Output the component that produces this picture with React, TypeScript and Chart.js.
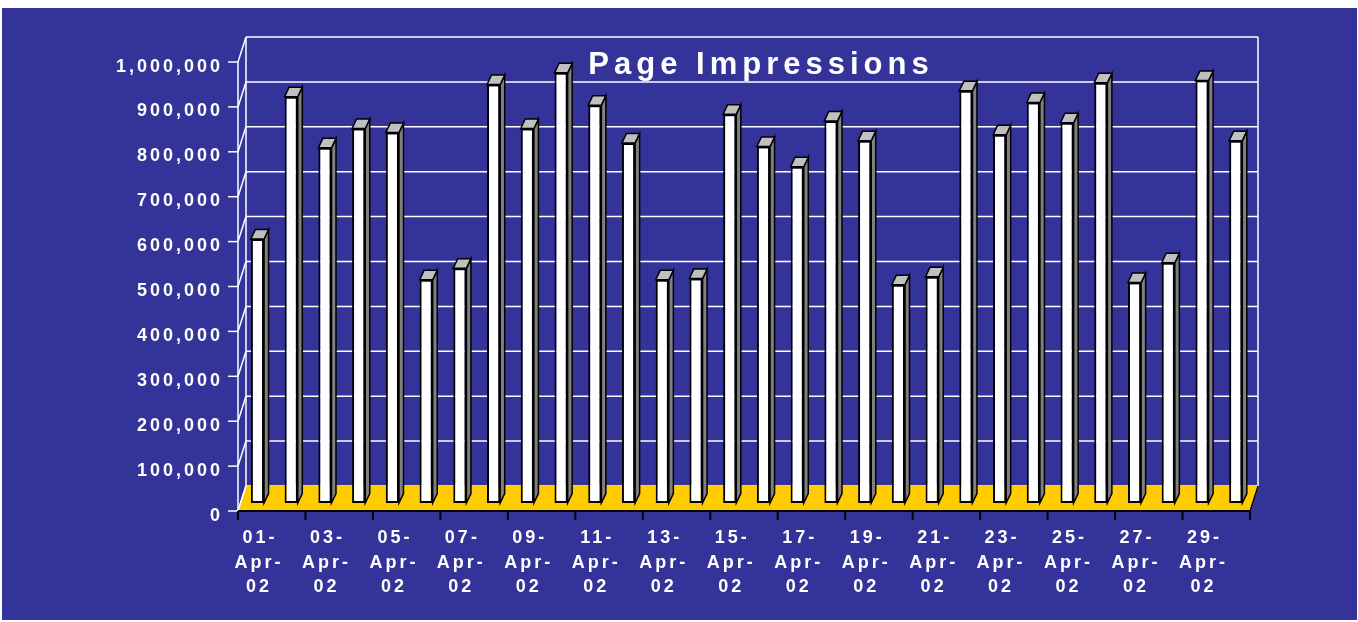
import React, { useEffect, useRef } from 'react';
import { Chart, registerables } from 'chart.js';

Chart.register(...registerables);

const categories = [
  '01-Apr-02', '02-Apr-02', '03-Apr-02', '04-Apr-02', '05-Apr-02', '06-Apr-02',
  '07-Apr-02', '08-Apr-02', '09-Apr-02', '10-Apr-02', '11-Apr-02', '12-Apr-02',
  '13-Apr-02', '14-Apr-02', '15-Apr-02', '16-Apr-02', '17-Apr-02', '18-Apr-02',
  '19-Apr-02', '20-Apr-02', '21-Apr-02', '22-Apr-02', '23-Apr-02', '24-Apr-02',
  '25-Apr-02', '26-Apr-02', '27-Apr-02', '28-Apr-02', '29-Apr-02', '30-Apr-02',
];

const pageImpressions = [
  588000, 905000, 791000, 834000, 825000, 497000,
  523000, 932000, 834000, 958000, 886000, 802000,
  497000, 500000, 866000, 794000, 749000, 851000,
  807000, 486000, 504000, 918000, 820000, 892000,
  847000, 936000, 491000, 535000, 941000, 807000,
];

const yTickValues = [0, 100000, 200000, 300000, 400000, 500000, 600000, 700000, 800000, 900000, 1000000];

const chartTitle = 'Page Impressions';

const BLUE = '#333399';
const YELLOW = '#FFCC00';
const SIDE = '#808080';
const TOP = '#C0C0C0';
const TEXT = '#FFFFFF';
const FONT = '"Liberation Sans", Arial, sans-serif';

// plane offsets relative to the bar plane (chart area)
const FX = -2.6, FY = 8; // front plane
const BX = 5.4, BY = -17; // back wall plane
const DX = 4.5, DY = 9.5; // bar depth

function fmt(v: number) {
  return v.toLocaleString('en-US');
}

function drawSpaced(ctx: CanvasRenderingContext2D, text: string, x: number, y: number, align: 'left' | 'center' | 'right', spacing: number) {
  ctx.save();
  (ctx as any).letterSpacing = '0px';
  const base = ctx.measureText(text).width;
  const w = base + spacing * (text.length - 1);
  let x0 = x;
  if (align === 'center') x0 = x - w / 2;
  else if (align === 'right') x0 = x - w;
  (ctx as any).letterSpacing = spacing + 'px';
  ctx.textAlign = 'left';
  ctx.fillText(text, x0, y);
  ctx.restore();
}

function line(ctx: CanvasRenderingContext2D, x1: number, y1: number, x2: number, y2: number) {
  ctx.beginPath();
  ctx.moveTo(x1, y1);
  ctx.lineTo(x2, y2);
  ctx.stroke();
}

const excel3d = {
  id: 'excel3d',
  beforeDraw(chart: any) {
    const ctx: CanvasRenderingContext2D = chart.ctx;
    const xs = chart.scales.x;
    const ys = chart.scales.y;
    ctx.save();
    ctx.fillStyle = '#FFFFFF';
    ctx.fillRect(0, 0, chart.width, chart.height);
    ctx.fillStyle = BLUE;
    ctx.fillRect(2, 8, chart.width - 3, chart.height - 10);

    const L = xs.left, R = xs.right;
    const y0 = ys.getPixelForValue(0);
    const yMax = ys.getPixelForValue(1000000);

    ctx.strokeStyle = '#FFFFFF';
    ctx.lineWidth = 1.5;
    // back wall gridlines
    for (const v of yTickValues) {
      const yb = ys.getPixelForValue(v) + BY;
      line(ctx, L + BX, yb, R + BX, yb);
    }
    // back wall edges
    line(ctx, L + BX, yMax + BY, L + BX, y0 + BY);
    line(ctx, R + BX, yMax + BY, R + BX, y0 + BY);
    // left wall diagonals and front axis ticks
    for (const v of yTickValues) {
      const yp = ys.getPixelForValue(v);
      line(ctx, L + FX, yp + FY, L + BX, yp + BY);
      line(ctx, L + FX - 10, yp + FY, L + FX, yp + FY);
    }
    line(ctx, L + FX, yMax + FY, L + FX, y0 + FY);

    // floor
    ctx.fillStyle = YELLOW;
    ctx.beginPath();
    ctx.moveTo(L + FX, y0 + FY);
    ctx.lineTo(R + FX, y0 + FY);
    ctx.lineTo(R + BX, y0 + BY);
    ctx.lineTo(L + BX, y0 + BY);
    ctx.closePath();
    ctx.fill();
    ctx.strokeStyle = '#FFFFFF';
    ctx.lineWidth = 1.5;
    line(ctx, L + FX, y0 + FY, L + BX, y0 + BY);
    ctx.strokeStyle = '#000000';
    ctx.lineWidth = 1.2;
    line(ctx, R + FX, y0 + FY, R + BX, y0 + BY);
    // front edge and ticks
    ctx.lineWidth = 2;
    line(ctx, L + FX, y0 + FY, R + FX, y0 + FY);
    for (let k = 0; k <= categories.length; k += 2) {
      const xb = xs.getPixelForValue(k - 0.5) + FX;
      line(ctx, xb, y0 + FY, xb, y0 + FY + 9);
    }
    ctx.restore();
  },
  afterDatasetsDraw(chart: any) {
    const ctx: CanvasRenderingContext2D = chart.ctx;
    const meta = chart.getDatasetMeta(0);
    ctx.save();
    ctx.strokeStyle = '#000000';
    ctx.lineWidth = 1.5;
    ctx.lineJoin = 'miter';
    for (const bar of meta.data) {
      const p = bar.getProps(['x', 'y', 'base', 'width'], true);
      const xl = p.x - p.width / 2;
      const xr = p.x + p.width / 2;
      const yt = p.y;
      const yb = p.base;
      // side
      ctx.fillStyle = SIDE;
      ctx.beginPath();
      ctx.moveTo(xr, yt);
      ctx.lineTo(xr + DX, yt - DY);
      ctx.lineTo(xr + DX, yb - DY);
      ctx.lineTo(xr, yb);
      ctx.closePath();
      ctx.fill();
      ctx.stroke();
      // top
      ctx.fillStyle = TOP;
      ctx.beginPath();
      ctx.moveTo(xl, yt);
      ctx.lineTo(xl + DX, yt - DY);
      ctx.lineTo(xr + DX, yt - DY);
      ctx.lineTo(xr, yt);
      ctx.closePath();
      ctx.fill();
      ctx.stroke();
    }
    ctx.restore();
  },
  afterDraw(chart: any) {
    const ctx: CanvasRenderingContext2D = chart.ctx;
    const xs = chart.scales.x;
    const ys = chart.scales.y;
    ctx.save();
    ctx.fillStyle = TEXT;
    ctx.textBaseline = 'alphabetic';
    ctx.font = `bold 18px ${FONT}`;
    // y tick labels
    for (const v of yTickValues) {
      const yf = ys.getPixelForValue(v) + FY;
      drawSpaced(ctx, fmt(v), 220, yf + 9.5, 'right', 3);
    }
    // x labels
    const y0 = ys.getPixelForValue(0) + FY;
    categories.forEach((c, i) => {
      if (i % 2 !== 0) return;
      const parts = c.split('-');
      const cx = xs.getPixelForValue(i);
      drawSpaced(ctx, parts[0] + '-', cx + 1, y0 + 32, 'center', 3);
      drawSpaced(ctx, parts[1] + '-', cx, y0 + 57, 'center', 3);
      drawSpaced(ctx, parts[2], cx, y0 + 81, 'center', 3);
    });
    // title
    ctx.font = `bold 31px ${FONT}`;
    drawSpaced(ctx, chartTitle, 758.5, 73.5, 'center', 5);
    ctx.restore();
  },
};

export default function App() {
  const canvasRef = useRef<HTMLCanvasElement | null>(null);

  useEffect(() => {
    document.body.style.margin = '0';
    document.body.style.overflow = 'hidden';
    const canvas = canvasRef.current;
    if (!canvas) return;
    const W = 1358, H = 622;
    const chart = new Chart(canvas, {
      type: 'bar',
      data: {
        labels: categories,
        datasets: [
          {
            label: chartTitle,
            data: pageImpressions,
            backgroundColor: '#FFFFFF',
            borderColor: '#000000',
            borderWidth: 2,
            borderSkipped: false,
            barPercentage: 0.39,
            categoryPercentage: 1,
          },
        ],
      },
      options: {
        responsive: false,
        maintainAspectRatio: false,
        animation: false,
        devicePixelRatio: 1,
        layout: {
          padding: { left: 240.6, right: W - 1252.6, top: 54, bottom: H - 503 },
        },
        scales: {
          x: { type: 'category', display: false, offset: true },
          y: { type: 'linear', display: false, min: 0, max: 1000000 },
        },
        plugins: {
          legend: { display: false },
          tooltip: { enabled: false },
          title: { display: false },
        },
      },
      plugins: [excel3d],
    });
    return () => chart.destroy();
  }, []);

  return (
    <canvas
      ref={canvasRef}
      width={1358}
      height={622}
      style={{ display: 'block', width: '1358px', height: '622px' }}
    />
  );
}
